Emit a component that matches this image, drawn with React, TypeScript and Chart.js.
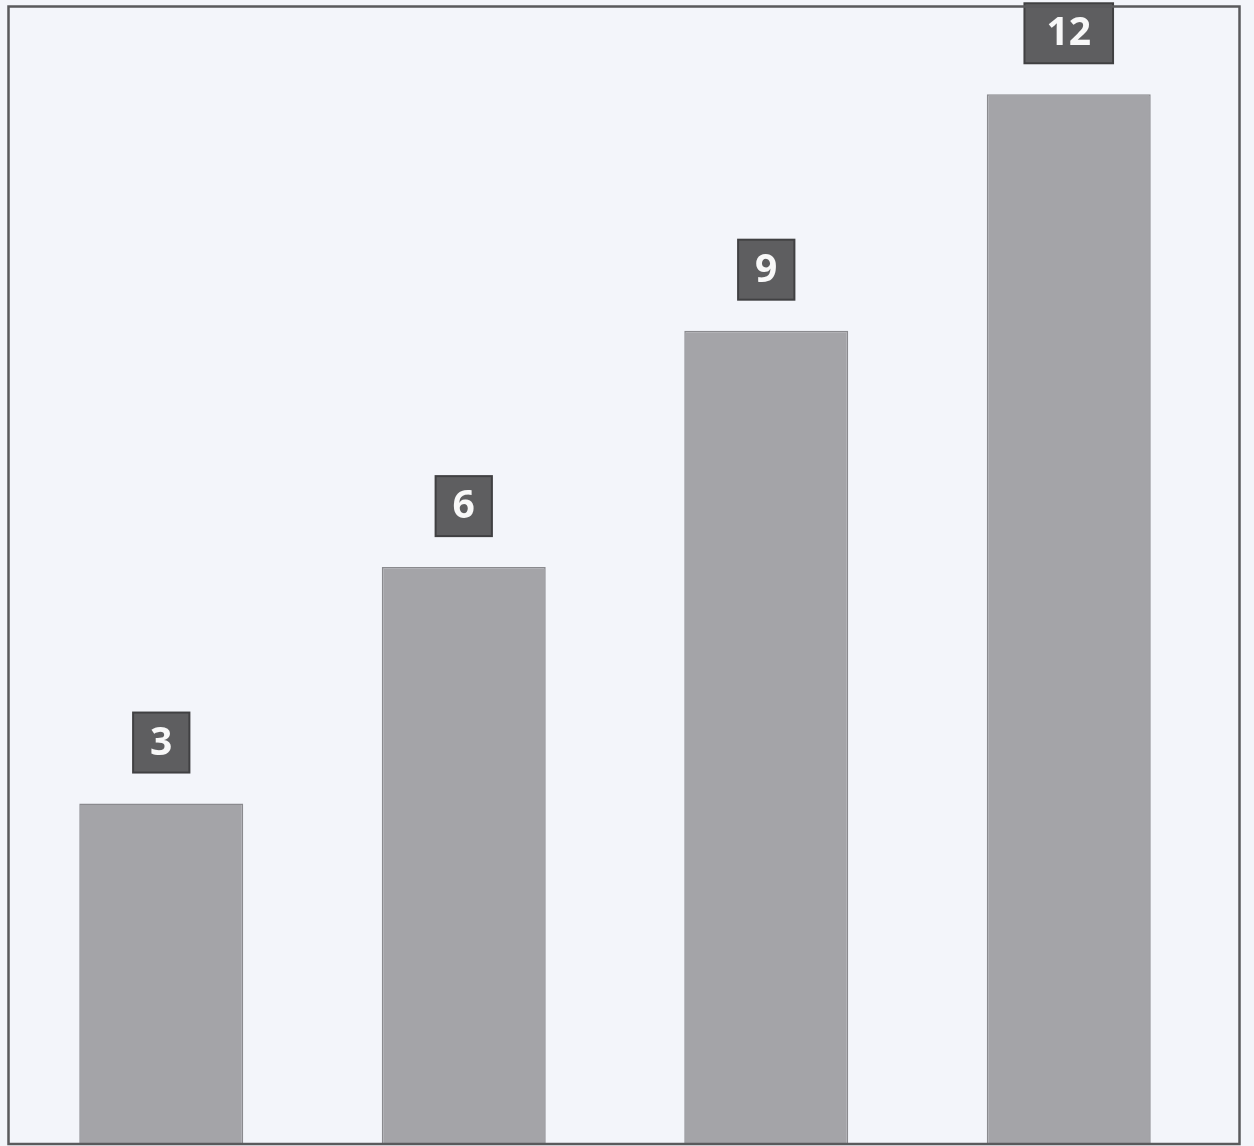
import React, { useEffect, useRef } from "react";
import { Chart, registerables } from "chart.js";

Chart.register(...registerables);

const categories = ["1", "2", "3", "4"];
const values = [3, 6, 9, 12];
const valueLabels = ["3", "6", "9", "12"];
const yMin = -1.32;
const yMax = 13.12;

const W = 1254;
const H = 1146;

const framePlugin = {
  id: "frame",
  beforeDraw(chart: any) {
    const { ctx } = chart;
    ctx.save();
    ctx.fillStyle = "#f3f5fa";
    ctx.fillRect(0, 0, W, H);
    ctx.restore();
  },
  afterDraw(chart: any) {
    const { ctx } = chart;
    ctx.save();
    ctx.strokeStyle = "#5a5a5c";
    ctx.lineWidth = 2.5;
    ctx.strokeRect(8.5, 6.5, 1231, 1137.5);
    ctx.restore();
  },
};

const labelPlugin = {
  id: "boxLabels",
  afterDatasetsDraw(chart: any) {
    const { ctx } = chart;
    const meta = chart.getDatasetMeta(0);
    ctx.save();
    ctx.font = "bold 39px 'Open Sans', 'DejaVu Sans', sans-serif";
    ctx.textAlign = "center";
    ctx.textBaseline = "middle";
    meta.data.forEach((bar: any, i: number) => {
      const text = valueLabels[i];
      const tw = ctx.measureText(text).width;
      const padX = tw > 30 ? 22 : 17;
      const bw = tw + padX * 2;
      const bh = 60;
      const bottom = bar.y - 31;
      const top = bottom - bh;
      const left = bar.x - bw / 2;
      ctx.fillStyle = "#5e5e60";
      ctx.fillRect(left, top, bw, bh);
      ctx.strokeStyle = "#404042";
      ctx.lineWidth = 2;
      ctx.strokeRect(left, top, bw, bh);
      ctx.fillStyle = "#f8f8f8";
      ctx.fillText(text, bar.x, top + bh / 2 + 1);
    });
    ctx.restore();
  },
};

export default function App() {
  const ref = useRef<HTMLCanvasElement | null>(null);
  useEffect(() => {
    document.body.style.margin = "0";
    const canvas = ref.current;
    if (!canvas) return;
    const chart = new Chart(canvas, {
      type: "bar",
      data: {
        labels: categories,
        datasets: [
          {
            data: values,
            base: yMin,
            backgroundColor: "#a4a4a8",
            borderColor: "#8a8a8e",
            borderWidth: 1.5,
            barPercentage: 0.542,
            categoryPercentage: 1,
          } as any,
        ],
      },
      options: {
        responsive: false,
        animation: false,
        layout: { padding: { left: 10, right: 34, top: 6, bottom: 2 } },
        plugins: {
          legend: { display: false },
          tooltip: { enabled: false },
          title: { display: false },
        },
        scales: {
          x: { display: false, grid: { display: false } },
          y: { display: false, min: yMin, max: yMax, grid: { display: false } },
        },
      },
      plugins: [framePlugin, labelPlugin],
    });
    return () => chart.destroy();
  }, []);
  return (
    <canvas
      ref={ref}
      width={W}
      height={H}
      style={{ display: "block", width: W + "px", height: H + "px" }}
    />
  );
}
